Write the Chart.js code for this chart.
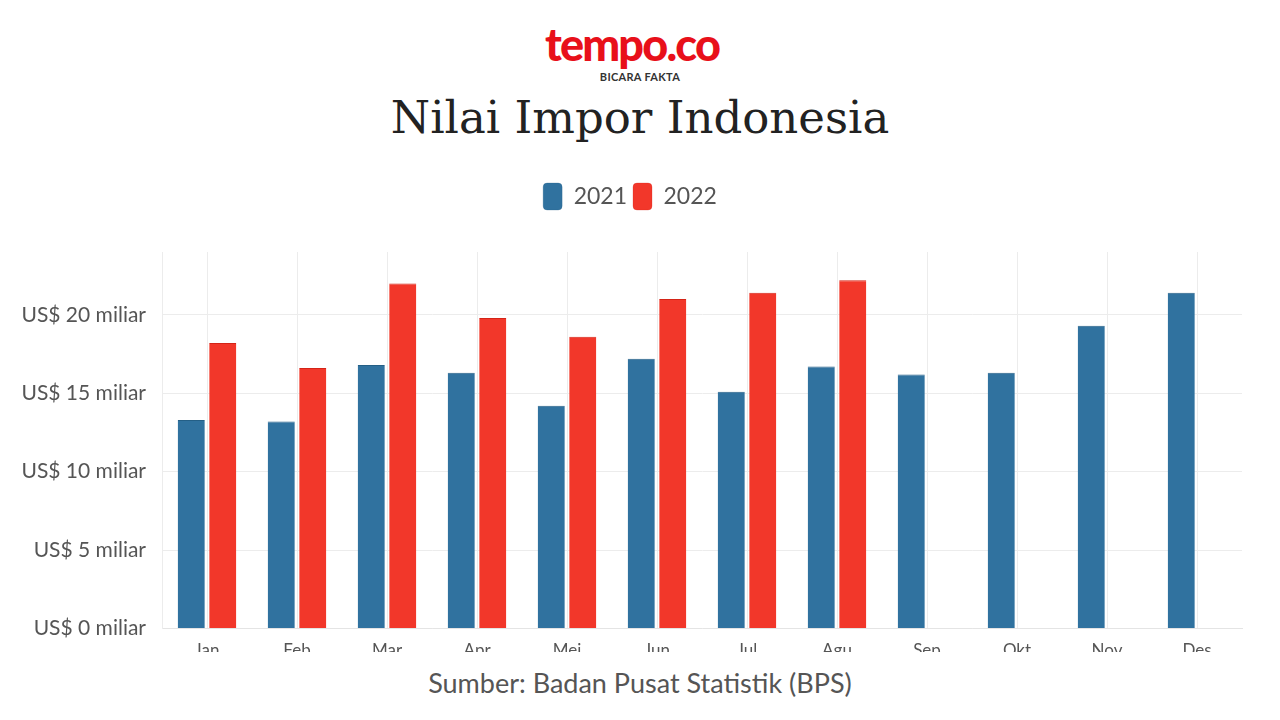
<!DOCTYPE html>
<html>
<head>
<meta charset="utf-8">
<script src="https://cdn.jsdelivr.net/npm/chart.js@4.4.0/dist/chart.umd.min.js"></script>
<style>
    html, body { margin: 0; padding: 0; background: #fff; }
    body { width: 1280px; height: 720px; position: relative; overflow: hidden; font-family: Lato, "Open Sans", sans-serif; }
    #logo { position: absolute; top: 18px; left: -8px; width: 1280px; text-align: center; color: #e8101a; font-family: Lato, sans-serif; font-weight: 900; font-size: 45px; letter-spacing: -1.8px; line-height: 52px; }
    #tagline { position: absolute; top: 70px; left: 0; width: 1280px; text-align: center; color: #333; font-family: Lato, sans-serif; font-weight: 700; font-size: 11px; letter-spacing: 0.3px; }
    #title { position: absolute; top: 91px; left: 0; width: 1280px; text-align: center; color: #222; font-family: "DejaVu Serif", serif; font-size: 45px; }
    #wrap { position: absolute; top: 177px; left: 0; width: 1280px; height: 496px; }
    #footer { position: absolute; top: 652px; left: 0; width: 1280px; height: 68px; background: #fff; text-align: center; color: #555; font-size: 27px; line-height: 62px; }
</style>
</head>
<body>
<div id="logo">tempo.co</div>
<div id="tagline">BICARA FAKTA</div>
<div id="title">Nilai Impor Indonesia</div>
<div id="wrap"><canvas id="chart"></canvas></div>
<div id="footer">Sumber: Badan Pusat Statistik (BPS)</div>

<script>
// === data (US$ miliar) ===
const months = ["Jan", "Feb", "Mar", "Apr", "Mei", "Jun", "Jul", "Agu", "Sep", "Okt", "Nov", "Des"];
const impor2021 = [13.3, 13.2, 16.8, 16.3, 14.2, 17.2, 15.1, 16.7, 16.2, 16.3, 19.3, 21.4];
const impor2022 = [18.2, 16.6, 22.0, 19.8, 18.6, 21.0, 21.4, 22.2, null, null, null, null];
const yTicks = [0, 5, 10, 15, 20];

const BLUE = "#30729f";
const RED = "#f2372a";
const GRID = "#ececec";
const TEXT = "#555";

// extra gap under the legend
const legendGap = {
    id: "legendGap",
    beforeInit(chart) {
        const fit = chart.legend.fit;
        chart.legend.fit = function () {
            fit.bind(chart.legend)();
            this.height += 32;
        };
    }
};

const ctx = document.getElementById("chart").getContext("2d");
new Chart(ctx, {
    type: "bar",
    data: {
        labels: months,
        datasets: [
            {
                label: "2021",
                data: impor2021,
                backgroundColor: BLUE,
                borderColor: "#245f86",
                borderWidth: { top: 1, left: 0, right: 0, bottom: 0 },
            },
            {
                label: "2022",
                data: impor2022,
                backgroundColor: RED,
                borderColor: "#d42417",
                borderWidth: { top: 1, left: 0, right: 0, bottom: 0 },
            }
        ]
    },
    options: {
        responsive: true,
        maintainAspectRatio: false,
        animation: false,
        categoryPercentage: 0.7,
        barPercentage: 0.86,
        layout: { padding: { left: 18, right: 38, top: 0, bottom: 0 } },
        scales: {
            x: {
                grid: { color: GRID, offset: false, drawTicks: false },
                border: { color: "#e4e4e4" },
                ticks: { color: TEXT, font: { family: "Lato", size: 17 }, padding: 12, maxRotation: 0 },
            },
            y: {
                min: 0,
                max: 24,
                afterBuildTicks(scale) {
                    scale.ticks = yTicks.map(v => ({ value: v }));
                },
                afterFit(scale) {
                    scale.width = 144;
                },
                grid: { color: GRID, drawTicks: false },
                border: { color: "#ececec" },
                ticks: {
                    color: TEXT,
                    font: { family: "Lato", size: 21 },
                    padding: 16,
                    callback: v => `US$ ${v} miliar`,
                },
            }
        },
        plugins: {
            legend: {
                position: "top",
                labels: {
                    boxWidth: 19,
                    boxHeight: 27,
                    useBorderRadius: true,
                    borderRadius: 4,
                    color: "#555",
                    font: { family: "Lato", size: 23 },
                    padding: 6,
                }
            },
            tooltip: { enabled: false }
        }
    },
    plugins: [legendGap]
});
</script>
</body>
</html>
